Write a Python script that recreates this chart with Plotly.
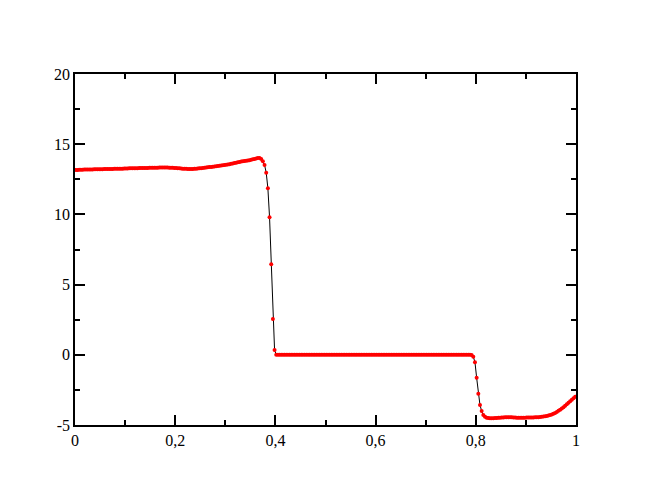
"""Perfil con dos discontinuidades (puntos rojos + linea negra)."""
import plotly.graph_objects as go

N_CELLS = 300

# valores, una celda cada 1/300 (centro de celda)
y_vals = [
    13.17, 13.17, 13.18, 13.18, 13.18, 13.19, 13.19, 13.19, 13.20, 13.20,
    13.20, 13.21, 13.21, 13.21, 13.22, 13.22, 13.22, 13.23, 13.23, 13.23,
    13.24, 13.24, 13.24, 13.25, 13.25, 13.25, 13.26, 13.26, 13.26, 13.27,
    13.27, 13.27, 13.28, 13.28, 13.28, 13.29, 13.29, 13.29, 13.30, 13.30,
    13.30, 13.31, 13.31, 13.31, 13.32, 13.32, 13.32, 13.33, 13.33, 13.33,
    13.34, 13.34, 13.34, 13.34, 13.34, 13.34, 13.33, 13.33, 13.32, 13.31,
    13.30, 13.29, 13.28, 13.27, 13.26, 13.25, 13.25, 13.24, 13.24, 13.24,
    13.24, 13.25, 13.26, 13.27, 13.28, 13.29, 13.31, 13.32, 13.34, 13.35,
    13.37, 13.38, 13.40, 13.41, 13.43, 13.45, 13.46, 13.48, 13.50, 13.52,
    13.54, 13.56, 13.58, 13.61, 13.63, 13.66, 13.68, 13.71, 13.73, 13.76,
    13.78, 13.80, 13.82, 13.84, 13.86, 13.89, 13.92, 13.95, 13.98, 14.01,
    14.02, 13.95, 13.78, 13.52, 12.97, 11.86, 9.79, 6.45, 2.55, 0.34,
    0.00, 0.00, 0.00, 0.00, 0.00, 0.00, 0.00, 0.00, 0.00, 0.00,
    0.00, 0.00, 0.00, 0.00, 0.00, 0.00, 0.00, 0.00, 0.00, 0.00,
    0.00, 0.00, 0.00, 0.00, 0.00, 0.00, 0.00, 0.00, 0.00, 0.00,
    0.00, 0.00, 0.00, 0.00, 0.00, 0.00, 0.00, 0.00, 0.00, 0.00,
    0.00, 0.00, 0.00, 0.00, 0.00, 0.00, 0.00, 0.00, 0.00, 0.00,
    0.00, 0.00, 0.00, 0.00, 0.00, 0.00, 0.00, 0.00, 0.00, 0.00,
    0.00, 0.00, 0.00, 0.00, 0.00, 0.00, 0.00, 0.00, 0.00, 0.00,
    0.00, 0.00, 0.00, 0.00, 0.00, 0.00, 0.00, 0.00, 0.00, 0.00,
    0.00, 0.00, 0.00, 0.00, 0.00, 0.00, 0.00, 0.00, 0.00, 0.00,
    0.00, 0.00, 0.00, 0.00, 0.00, 0.00, 0.00, 0.00, 0.00, 0.00,
    0.00, 0.00, 0.00, 0.00, 0.00, 0.00, 0.00, 0.00, 0.00, 0.00,
    0.00, 0.00, 0.00, 0.00, 0.00, 0.00, 0.00, -0.02, -0.14, -0.53,
    -1.63, -2.77, -3.58, -4.00, -4.29, -4.42, -4.48, -4.51, -4.52, -4.52,
    -4.52, -4.51, -4.50, -4.49, -4.48, -4.47, -4.46, -4.45, -4.45, -4.44,
    -4.44, -4.45, -4.46, -4.47, -4.48, -4.48, -4.48, -4.48, -4.48, -4.48,
    -4.47, -4.47, -4.47, -4.46, -4.46, -4.45, -4.45, -4.44, -4.43, -4.42,
    -4.40, -4.38, -4.36, -4.33, -4.29, -4.25, -4.20, -4.14, -4.07, -3.99,
    -3.91, -3.82, -3.73, -3.63, -3.53, -3.42, -3.31, -3.20, -3.09, -2.98,
]
x_vals = [(i + 0.5) / N_CELLS for i in range(N_CELLS)]

x_ticks = [0, 0.2, 0.4, 0.6, 0.8, 1]
x_labels = ["0", "0,2", "0,4", "0,6", "0,8", "1"]
y_ticks = [-5, 0, 5, 10, 15, 20]
y_labels = ["-5", "0", "5", "10", "15", "20"]

FONT = dict(family="Liberation Serif, Times New Roman, serif", size=16, color="black")

fig = go.Figure()
fig.add_trace(go.Scatter(
    x=x_vals, y=y_vals, mode="lines+markers",
    line=dict(color="black", width=1),
    marker=dict(color="red", size=4, line=dict(width=0)),
    showlegend=False,
))

axis_common = dict(
    showline=True, linecolor="black", linewidth=1.5, mirror="allticks",
    ticks="inside", ticklen=10, tickwidth=1.5, tickcolor="black",
    showgrid=False, zeroline=False, tickfont=FONT, tickmode="array",
)
fig.update_xaxes(
    **axis_common, range=[0, 1], tickvals=x_ticks, ticktext=x_labels,
    minor=dict(dtick=0.1, tick0=0, ticks="inside", ticklen=5, tickwidth=1.5,
               tickcolor="black", showgrid=False),
)
fig.update_yaxes(
    **axis_common, range=[-5, 20], tickvals=y_ticks, ticktext=y_labels,
    minor=dict(dtick=2.5, tick0=0, ticks="inside", ticklen=5, tickwidth=1.5,
               tickcolor="black", showgrid=False),
)
# el body de la pagina tiene 8px de margen: se descuenta aqui
fig.update_layout(
    width=648, height=501,
    margin=dict(l=67, r=80, t=66, b=84),
    paper_bgcolor="white", plot_bgcolor="white",
    font=FONT,
)
fig.write_html("out.html")
